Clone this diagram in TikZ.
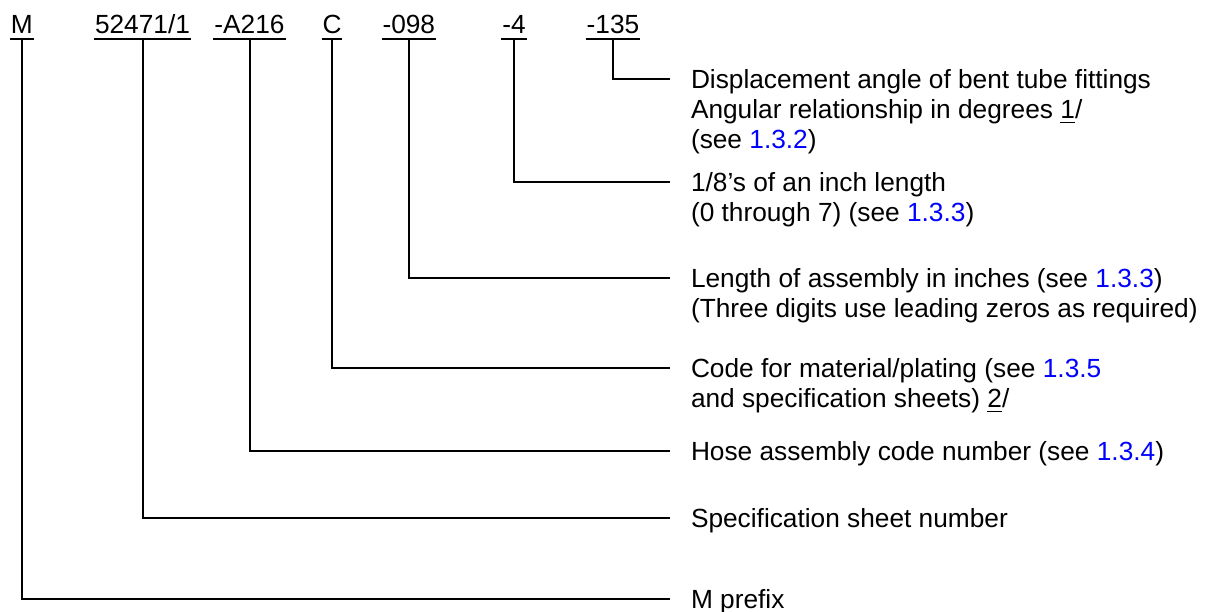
\documentclass[tikz,border=0pt]{standalone}
\usepackage{fontspec}
\setmainfont{Liberation Sans}
\definecolor{reflink}{RGB}{0,0,255}
\newcommand{\secref}[1]{\textcolor{reflink}{#1}}
\begin{document}
\begin{tikzpicture}[x=0.375pt, y=-0.375pt, line width=0.75pt,
  every node/.style={font=\fontsize{9.85}{11.25}\selectfont, inner sep=0pt},
  code/.style={anchor=base, text depth=1.65pt},
  desc/.style={anchor=base west, align=left}]
\useasboundingbox (0,0) rectangle (1214,612);

% fields of the part number
\node[code] (prefix) at (21.7,33.3){M};
\node[code] (sheet) at (142.5,33.3){52471/1};
\node[code] (hose) at (249.5,33.3){-A216};
\node[code] (mat) at (332,33.3){C};
\node[code] (len) at (408.8,33.3){-098};
\node[code] (eighth) at (514,33.3){-4};
\node[code] (angle) at (613,33.3){-135};

\foreach \f in {prefix,sheet,hose,mat,len,eighth,angle}
  \draw (\f.south west) -- (\f.south east);

% descriptions (base = last line)
\node[desc] (dangle) at (690,148.4){Displacement angle of bent tube fittings\\
  Angular relationship in degrees \underline{1}/\\(see \secref{1.3.2})};
\node[desc] (deighth) at (690,221.4){1/8’s of an inch length\\
  (0 through 7) (see \secref{1.3.3})};
\node[desc] (dlen) at (690,317.4){Length of assembly in inches (see \secref{1.3.3})\\
  (Three digits use leading zeros as required)};
\node[desc] (dmat) at (690,407.4){Code for material/plating (see \secref{1.3.5}\\
  and specification sheets) \underline{2}/};
\node[desc] (dhose) at (690,460.4){Hose assembly code number (see \secref{1.3.4})};
\node[desc] (dsheet) at (690,527.4){Specification sheet number};
\node[desc] (dprefix) at (690,608.4){M prefix};

\draw (angle.south) |- ([shift={(-20,-69.4)}]dangle.base west);
\draw (eighth.south) |- ([shift={(-20,-39.4)}]deighth.base west);
\draw (len.south) |- ([shift={(-20,-39.4)}]dlen.base west);
\draw (mat.south) |- ([shift={(-20,-39.4)}]dmat.base west);
\draw (hose.south) |- ([shift={(-20,-9.4)}]dhose.base west);
\draw (sheet.south) |- ([shift={(-20,-9.4)}]dsheet.base west);
\draw (prefix.south) |- ([shift={(-20,-9.4)}]dprefix.base west);
\end{tikzpicture}
\end{document}
